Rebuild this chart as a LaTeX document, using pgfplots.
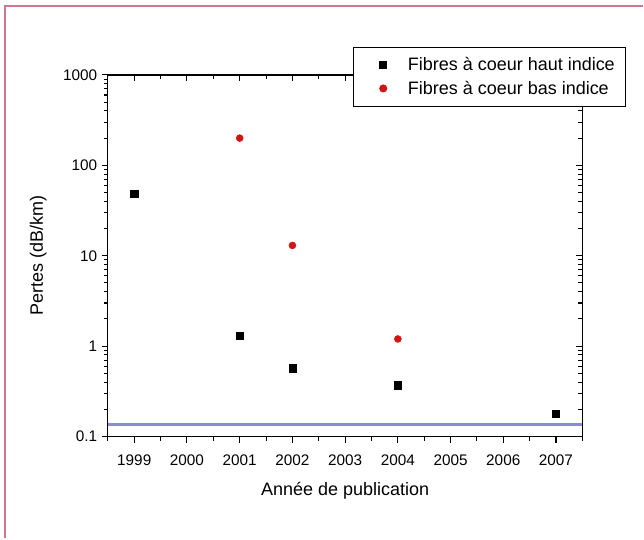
\documentclass[border=0pt]{standalone}
\usepackage{pgfplots}
\pgfplotsset{compat=1.18}
\usepackage{fontspec}
\setmainfont{Liberation Sans}
\definecolor{pinkb}{RGB}{205,120,140}
\definecolor{lineblue}{RGB}{140,140,210}
\definecolor{myred}{RGB}{210,20,20}
\begin{document}
\begin{tikzpicture}
\path (0,0) rectangle (483pt,404.25pt);
\draw[pinkb, line width=1pt] (3.75pt,0) -- (3.75pt,399.75pt) -- (483pt,399.75pt);
\begin{axis}[
  at={(81pt,76.5pt)}, anchor=south west,
  scale only axis, width=356.25pt, height=271.5pt,
  ymode=log, xmin=1998.5, xmax=2007.5, ymin=0.1, ymax=1000,
  xtick={1999,...,2007},
  ytick={0.1,1,10,100,1000},
  extra x ticks={1998.5,1999.5,2000.5,2001.5,2002.5,2003.5,2004.5,2005.5,2006.5,2007.5},
  extra x tick labels={},
  extra y ticks={0.2,0.3,0.4,0.5,0.6,0.7,0.8,0.9,2,3,4,5,6,7,8,9,20,30,40,50,60,70,80,90,200,300,400,500,600,700,800,900},
  extra y tick labels={},
  extra tick style={major tick length=3pt},
  major tick length=4.5pt,
  tick style={black, line width=0.8pt},
  axis line style={line width=0.9pt},
  tick align=inside, xtick pos=top, ytick pos=right,
  xticklabels={}, yticklabels={},
]
\end{axis}
\begin{axis}[
  at={(81pt,76.5pt)}, anchor=south west,
  scale only axis, width=356.25pt, height=271.5pt,
  ymode=log, xmin=1998.5, xmax=2007.5, ymin=0.1, ymax=1000,
  xtick={1999,...,2007},
  ytick={0.1,1,10,100,1000},
  extra x ticks={1998.5,1999.5,2000.5,2001.5,2002.5,2003.5,2004.5,2005.5,2006.5,2007.5},
  extra x tick labels={},
  extra y ticks={0.2,0.3,0.4,0.5,0.6,0.7,0.8,0.9,2,3,4,5,6,7,8,9,20,30,40,50,60,70,80,90,200,300,400,500,600,700,800,900},
  extra y tick labels={},
  extra tick style={major tick length=3pt},
  major tick length=4.5pt,
  tick style={black, line width=0.8pt},
  axis line style={line width=0.9pt},
  yticklabels={0.1,1,10,100,1000},
  /pgf/number format/assume math mode=true,
  xticklabel style={/pgf/number format/1000 sep=, yshift=-6pt},
  tick align=outside, xtick pos=bottom, ytick pos=left,
  tick label style={font=\fontsize{11.5}{12}\selectfont},
  xlabel={Année de publication}, ylabel={Pertes (dB/km)},
  label style={font=\fontsize{13.5}{15}\selectfont},
  xlabel style={at={(axis description cs:0.5,-0.15)}, anchor=center},
  ylabel style={at={(axis description cs:-0.147,0.5)}, anchor=center, rotate=0},
  legend style={at={(0.516,1.077)}, anchor=north west, draw=black, fill=white,
    line width=0.8pt,
    font=\fontsize{13.5}{14}\selectfont, inner xsep=6pt, inner ysep=5.5pt,
    row sep=2pt},
  legend image code/.code={\path[draw=none,fill=none] (0pt,0pt) -- (33pt,0pt); \draw[#1] plot coordinates {(16.5pt,0pt)};},
  legend cell align=left,
]
\addplot[only marks, mark=square*, mark size=2.7pt, black] coordinates {
 (1999,48) (2001,1.3) (2002,0.57) (2004,0.37) (2007,0.18)};
\addlegendentry{Fibres à coeur haut indice}
\addplot[only marks, mark=*, mark size=2.6pt, myred] coordinates {
 (2001,200) (2002,13) (2004,1.2)};
\addlegendentry{Fibres à coeur bas indice}
\addplot[lineblue, line width=2pt, forget plot] coordinates {(1998.5,0.135) (2007.5,0.135)};
\end{axis}
\end{tikzpicture}
\end{document}
